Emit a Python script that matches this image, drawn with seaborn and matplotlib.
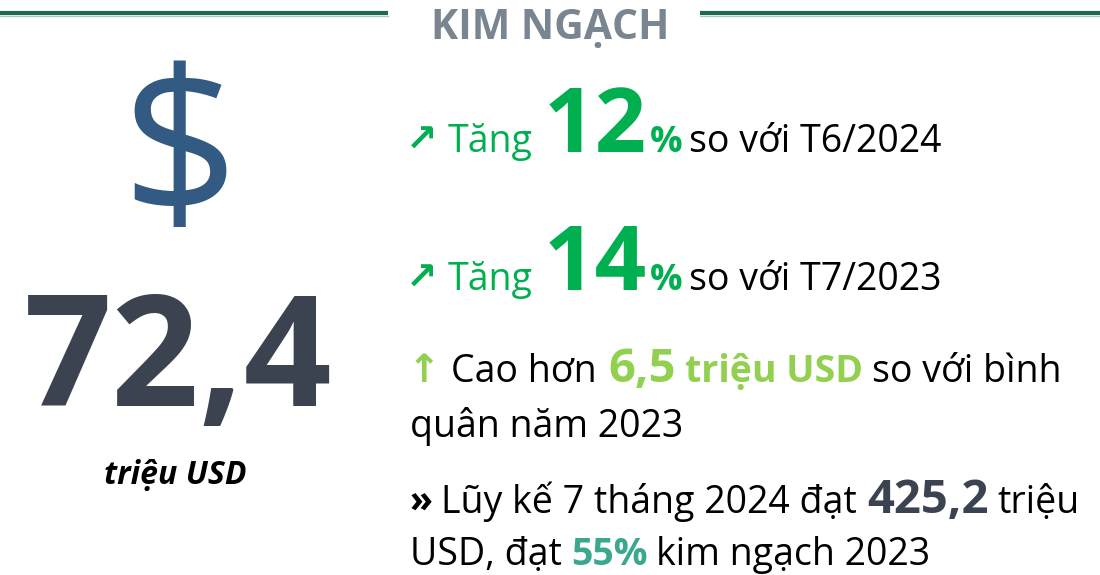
import matplotlib
matplotlib.use('Agg')
import matplotlib.pyplot as plt
import seaborn as sns

# dữ liệu
title_text = "KIM NGẠCH"
headline_value = "72,4"
headline_unit = "triệu USD"
growth_pct = ["12", "14"]
growth_ref = ["T6/2024", "T7/2023"]
above_avg = "6,5"
cumulative = "425,2"
share_pct = "55%"

sns.set_theme(style="white")
plt.rcParams['font.family'] = ['Open Sans', 'DejaVu Sans']

GREEN = '#00b050'
LIGHT_GREEN = '#92d050'
TEAL = '#3aa88e'
DARK = '#3c4350'
BLUE = '#335a82'
GREY = '#7a8592'
LINE = '#1d6b4e'

fig = plt.figure(figsize=(11, 5.75), dpi=100)
ax = fig.add_axes([0, 0, 1, 1])
ax.set_xlim(0, 1100)
ax.set_ylim(575, 0)
ax.axis('off')
renderer = fig.canvas.get_renderer()

NORMAL = 27


def runs(x, y, parts):
    """vẽ các đoạn chữ nối tiếp nhau trên cùng một đường cơ sở"""
    for text, size, weight, color, gap in parts:
        x += gap
        t = ax.text(x, y, text, fontsize=size, fontweight=weight, color=color,
                    va='baseline', ha='left')
        bb = t.get_window_extent(renderer)
        x += bb.width
    return x


# tiêu đề
ax.plot([0, 388], [13, 13], color=LINE, lw=3, solid_capstyle='butt')
ax.plot([700, 1100], [13, 13], color=LINE, lw=3, solid_capstyle='butt')
ax.plot([0, 388], [15.5, 15.5], color='#a9cdbd', lw=1)
ax.plot([700, 1100], [15.5, 15.5], color='#a9cdbd', lw=1)
ax.text(550, 39, title_text, fontsize=29.5, fontweight='bold', color=GREY,
        ha='center', va='baseline')

# cột trái
ax.text(180, 215, "$", fontsize=147, color=BLUE, ha='center', va='baseline')
ax.text(178, 406, headline_value, fontsize=111, fontweight='bold', color=DARK,
        ha='center', va='baseline')
ax.text(175, 484, headline_unit, fontsize=23, fontweight='bold', style='italic',
        color='black', ha='center', va='baseline')

# hai dòng tăng trưởng
for pct, ref, base in zip(growth_pct, growth_ref, [152, 290]):
    runs(406, base, [
        ("↗", 27, 'bold', GREEN, 0),
        ("Tăng", NORMAL, 'normal', GREEN, 10),
        (pct, 65, 'bold', GREEN, 11),
        ("%", 26, 'bold', GREEN, 3),
        ("so với " + ref, NORMAL, 'normal', 'black', 7),
    ])

# cao hơn bình quân
runs(408, 382, [
    ("↑", 28, 'bold', LIGHT_GREEN, 0),
    ("Cao hơn", NORMAL, 'normal', 'black', 10),
    (above_avg, 34, 'bold', LIGHT_GREEN, 12),
    ("triệu USD", NORMAL, 'bold', LIGHT_GREEN, 9),
    ("so với bình", NORMAL, 'normal', 'black', 9),
])
runs(410, 437, [("quân năm 2023", NORMAL, 'normal', 'black', 0)])

# lũy kế
runs(410, 513, [
    ("»", NORMAL, 'bold', 'black', 0),
    ("Lũy kế 7 tháng 2024 đạt", NORMAL, 'normal', 'black', 8),
    (cumulative, 34, 'bold', DARK, 10),
    ("triệu", NORMAL, 'normal', 'black', 9),
])
runs(410, 565, [
    ("USD, đạt", NORMAL, 'normal', 'black', 0),
    (share_pct, NORMAL, 'bold', TEAL, 9),
    ("kim ngạch 2023", NORMAL, 'normal', 'black', 9),
])

fig.savefig('out.png', dpi=100, facecolor='white')
